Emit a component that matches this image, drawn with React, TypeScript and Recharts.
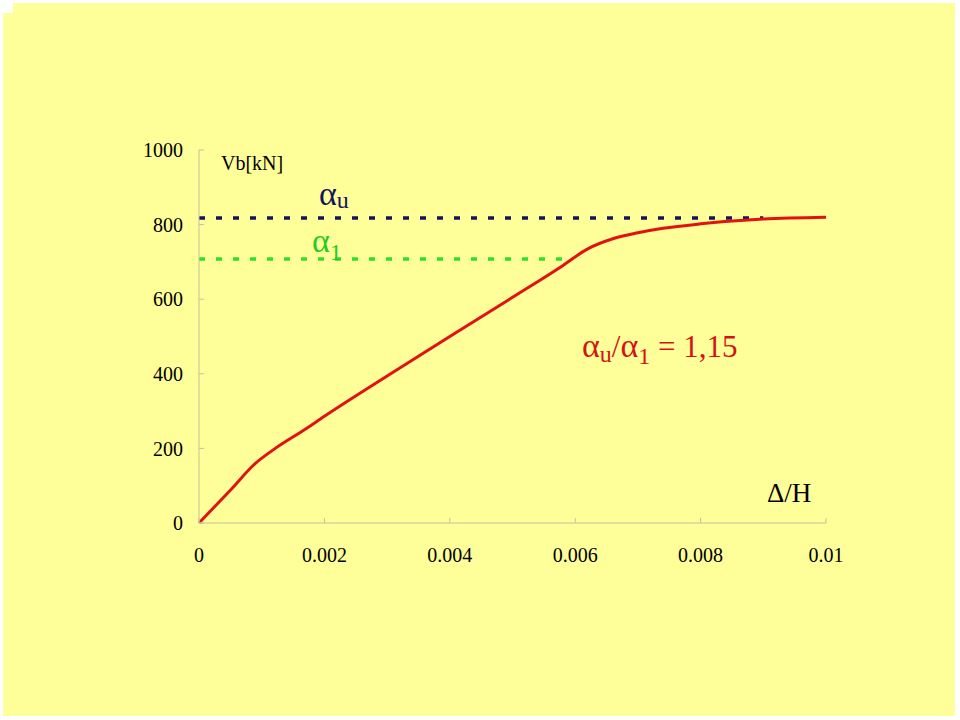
import React from 'react';
import { LineChart, Line, XAxis, YAxis, ReferenceLine } from 'recharts';

// pushover curve: drift ratio vs base shear
const driftRatio = [0, 0.0005, 0.0009, 0.0012, 0.0017, 0.002, 0.003, 0.004, 0.005, 0.0058, 0.0062, 0.0066, 0.007, 0.0074, 0.008, 0.009, 0.01];
const baseShear = [0, 88, 160, 198, 252, 286, 394, 500, 605, 690, 735, 762, 778, 790, 802, 815, 820];

const xTicks = [0, 0.002, 0.004, 0.006, 0.008, 0.01];
const yTicks = [0, 200, 400, 600, 800, 1000];

// alpha_u / alpha_1 levels and where their dashes stop
const alphaU = 818;
const alphaUEnd = 0.009;
const alpha1 = 708;
const alpha1End = 0.00595;

const data = driftRatio.map((x, i) => ({ x, vb: baseShear[i] }));

const SERIF = 'Liberation Serif, Times New Roman, serif';
const AXIS = '#c2c29e';

const tickStyle = { fill: '#000', fontSize: 20, fontFamily: SERIF };
const txt = { fontFamily: SERIF };

const App: React.FC = () => {
  return (
    <div style={{ position: 'absolute', left: 0, top: 0, width: 960, height: 720, background: '#fff', overflow: 'hidden', fontFamily: SERIF }}>
      <div style={{ position: 'absolute', left: 3, top: 3, width: 952, height: 713, background: '#ffff99' }} />
      <div style={{ position: 'absolute', left: 0, top: 0, width: 13, height: 13, background: '#fff' }} />

      <div style={{ position: 'absolute', left: 0, top: 0 }}>
        <LineChart
          width={960}
          height={720}
          data={data}
          margin={{ top: 150, right: 134, bottom: 167, left: 139 }}
        >
          <XAxis
            type="number"
            dataKey="x"
            domain={[0, 0.01]}
            ticks={xTicks}
            tickFormatter={(v: number) => String(v)}
            stroke={AXIS}
            tickSize={-5}
            tickMargin={30}
            height={30}
            tick={tickStyle}
            interval={0}
          />
          <YAxis
            type="number"
            domain={[0, 1000]}
            ticks={yTicks}
            stroke={AXIS}
            tickSize={-5}
            tickMargin={21}
            width={60}
            tick={tickStyle}
            interval={0}
          />
          <ReferenceLine
            segment={[{ x: 0, y: alphaU }, { x: alphaUEnd, y: alphaU }]}
            stroke="#14145e"
            strokeWidth={3.5}
            strokeDasharray="6 11"
          />
          <ReferenceLine
            segment={[{ x: 0, y: alpha1 }, { x: alpha1End, y: alpha1 }]}
            stroke="#2ee02e"
            strokeWidth={3.5}
            strokeDasharray="6 11"
          />
          <Line
            type="monotone"
            dataKey="vb"
            stroke="#e21212"
            strokeWidth={3}
            dot={false}
            isAnimationActive={false}
          />
        </LineChart>
      </div>

      <svg width={960} height={720} style={{ position: 'absolute', left: 0, top: 0, pointerEvents: 'none' }}>
        <text x={221} y={170} fontSize={20} fill="#000" style={txt}>Vb[kN]</text>

        <text x={319} y={205} fontSize={34} fill="#14145e" style={txt}>
          α<tspan fontSize={24} dy={3}>u</tspan>
        </text>

        <text x={312} y={252} fontSize={34} fill="#22cc22" style={txt}>
          α<tspan fontSize={24} dy={8}>1</tspan>
        </text>

        <text x={582} y={357} fontSize={31} fill="#d41414" style={txt}>
          <tspan fontSize={34}>α</tspan>
          <tspan fontSize={24} dy={5}>u</tspan>
          <tspan dy={-5}>/</tspan>
          <tspan fontSize={34}>α</tspan>
          <tspan fontSize={24} dy={7}>1</tspan>
          <tspan dy={-7}> = 1,15</tspan>
        </text>

        <text x={767} y={502} fontSize={27} fill="#000" style={txt}>Δ/H</text>
      </svg>
    </div>
  );
};

export default App;
